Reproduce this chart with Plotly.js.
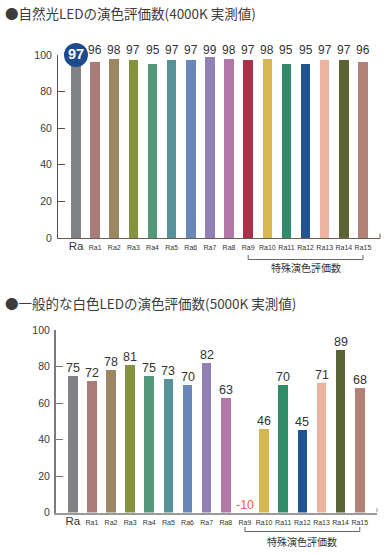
<!DOCTYPE html>
<html>
<head>
<meta charset="utf-8">
<script src="https://cdn.plot.ly/plotly-3.0.1.min.js"></script>
<style>html,body{margin:0;padding:0;background:#fff;}#chart{width:387px;height:554px;}</style>
</head>
<body>
<div id="chart"></div>
<script>
// ---- data ----
const categories = ['Ra','Ra1','Ra2','Ra3','Ra4','Ra5','Ra6','Ra7','Ra8','Ra9','Ra10','Ra11','Ra12','Ra13','Ra14','Ra15'];
const naturalLED = [97,96,98,97,95,97,97,99,98,97,98,95,95,97,97,96];   // 4000K
const generalLED = [75,72,78,81,75,73,70,82,63,-10,46,70,45,71,89,68];  // 5000K
const barColors = ['#808286','#a97c79','#9b8762','#85923f','#53987b','#57929b','#6a87b9','#9080b4','#b278a7',
                   '#a9304a','#d7b74f','#2f8b69','#1f5491','#ecb39e','#5b6437','#b08174'];
const titleTop = '●自然光LEDの演色評価数(4000K 実測値)';
const titleBottom = '●一般的な白色LEDの演色評価数(5000K 実測値)';
const specialLabel = '特殊演色評価数';
const specialFirst = 'Ra9', specialLast = 'Ra15';

// ---- layout helpers ----
const W = 387, H = 554;
const py = p => 1 - p / H;
const numFont = "'Liberation Sans', Arial, sans-serif";
const jpFont = "'Noto Sans CJK JP', 'Noto Sans', sans-serif";

const tickText = categories.map((c, i) => i === 0 ? '<span style="font-size:11.5px">' + c + '</span>' : c);

const traces = [
  {type: 'bar', x: categories, y: naturalLED, xaxis: 'x', yaxis: 'y', width: 0.5,
   marker: {color: barColors}, hoverinfo: 'x+y', showlegend: false},
  {type: 'bar', x: categories, y: generalLED, xaxis: 'x2', yaxis: 'y2', width: 0.5,
   marker: {color: barColors}, hoverinfo: 'x+y', showlegend: false},
  // highlighted Ra badge (top chart)
  {type: 'scatter', mode: 'markers+text', x: [categories[0]], y: [100], xaxis: 'x', yaxis: 'y',
   marker: {size: 24, color: '#1e4b8e'}, text: [String(naturalLED[0])], textposition: 'middle center',
   textfont: {family: numFont, size: 14.5, color: '#ffffff', weight: 'bold'},
   cliponaxis: false, showlegend: false, hoverinfo: 'skip'}
];

const annotations = [];
// value labels top (aligned row above 100)
naturalLED.forEach((v, i) => {
  if (i === 0) return;
  annotations.push({xref: 'x', yref: 'y', x: categories[i], y: 100, yshift: 5, yanchor: 'middle',
    text: String(v), showarrow: false, font: {family: numFont, size: 12, color: '#333'}});
});
// value labels bottom (above bar tops)
generalLED.forEach((v, i) => {
  annotations.push({xref: 'x2', yref: 'y2', x: categories[i], y: Math.max(v, 0), yshift: 8, yanchor: 'middle',
    text: String(v), showarrow: false, font: {family: numFont, size: 12.5, color: v < 0 ? '#f0603a' : '#333'}});
});
// titles
annotations.push({xref: 'paper', yref: 'paper', x: 3 / W, y: py(13), xanchor: 'left', yanchor: 'middle',
  text: titleTop, showarrow: false, font: {family: jpFont, size: 13.5, color: '#3c3c3c'}});
annotations.push({xref: 'paper', yref: 'paper', x: 3 / W, y: py(303), xanchor: 'left', yanchor: 'middle',
  text: titleBottom, showarrow: false, font: {family: jpFont, size: 13.5, color: '#3c3c3c'}});

const i0 = categories.indexOf(specialFirst), i1 = categories.indexOf(specialLast);
annotations.push({xref: 'x', yref: 'paper', x: (i0 + i1) / 2, y: py(267), yanchor: 'middle',
  text: specialLabel, showarrow: false, font: {family: jpFont, size: 10, color: '#333'}});
annotations.push({xref: 'x2', yref: 'paper', x: (i0 + i1) / 2, y: py(541), yanchor: 'middle',
  text: specialLabel, showarrow: false, font: {family: jpFont, size: 10, color: '#333'}});

const bc = '#666', bw = 1;
function bracket(xref, top, bot) {
  return [
    {type: 'line', xref: xref, yref: 'paper', x0: i0, x1: i1, y0: py(bot), y1: py(bot), line: {color: bc, width: bw}},
    {type: 'line', xref: xref, yref: 'paper', x0: i0, x1: i0, y0: py(top), y1: py(bot), line: {color: bc, width: bw}},
    {type: 'line', xref: xref, yref: 'paper', x0: i1, x1: i1, y0: py(top), y1: py(bot), line: {color: bc, width: bw}}
  ];
}
const shapes = [
  ...bracket('x', 255, 259.5),
  ...bracket('x2', 527, 531.5),
  {type: 'line', xref: 'x domain', yref: 'y', x0: 1, x1: 1, y0: 0, y1: 2.5, line: {color: '#6b5e55', width: 1}},
  {type: 'line', xref: 'x2 domain', yref: 'y2', x0: 1, x1: 1, y0: 0, y1: 2.5, line: {color: '#9a9a9a', width: 1}}
];

const xCommon = {type: 'category', tickmode: 'array', tickvals: categories, ticktext: tickText,
  ticks: '', showgrid: false, zeroline: false, showline: true,
  tickfont: {family: numFont, size: 7, color: '#333'}, fixedrange: true};
const yCommon = {range: [0, 100], tickvals: [0, 20, 40, 60, 80, 100], ticks: 'inside', ticklen: 7,
  showgrid: false, zeroline: false, showline: true, tickfont: {family: numFont, size: 10.5, color: '#3a3a3a'},
  fixedrange: true};

const layout = {
  width: W, height: H, margin: {l: 0, r: 0, t: 0, b: 0},
  paper_bgcolor: '#fff', plot_bgcolor: '#fff', showlegend: false, bargap: 0,
  xaxis: Object.assign({}, xCommon, {domain: [58 / W, 380 / W], range: [-0.94, 15.89], anchor: 'y',
    linecolor: '#6b5e55', linewidth: 1, ticklabelstandoff: 3}),
  yaxis: Object.assign({}, yCommon, {domain: [py(238), py(55)], anchor: 'x',
    linecolor: '#5e5048', tickcolor: '#5e5048', linewidth: 1, ticklabelstandoff: 3}),
  xaxis2: Object.assign({}, xCommon, {domain: [55.5 / W, 377 / W], range: [-0.9, 15.9], anchor: 'y2',
    linecolor: '#9a9a9a', linewidth: 2, ticklabelstandoff: 2}),
  yaxis2: Object.assign({}, yCommon, {domain: [py(512.5), py(330)], anchor: 'x2',
    linecolor: '#7a7a7a', tickcolor: '#7a7a7a', linewidth: 1.5, ticklabelstandoff: 2}),
  annotations: annotations,
  shapes: shapes
};

Plotly.newPlot('chart', traces, layout, {displayModeBar: false, staticPlot: true});
</script>
</body>
</html>
